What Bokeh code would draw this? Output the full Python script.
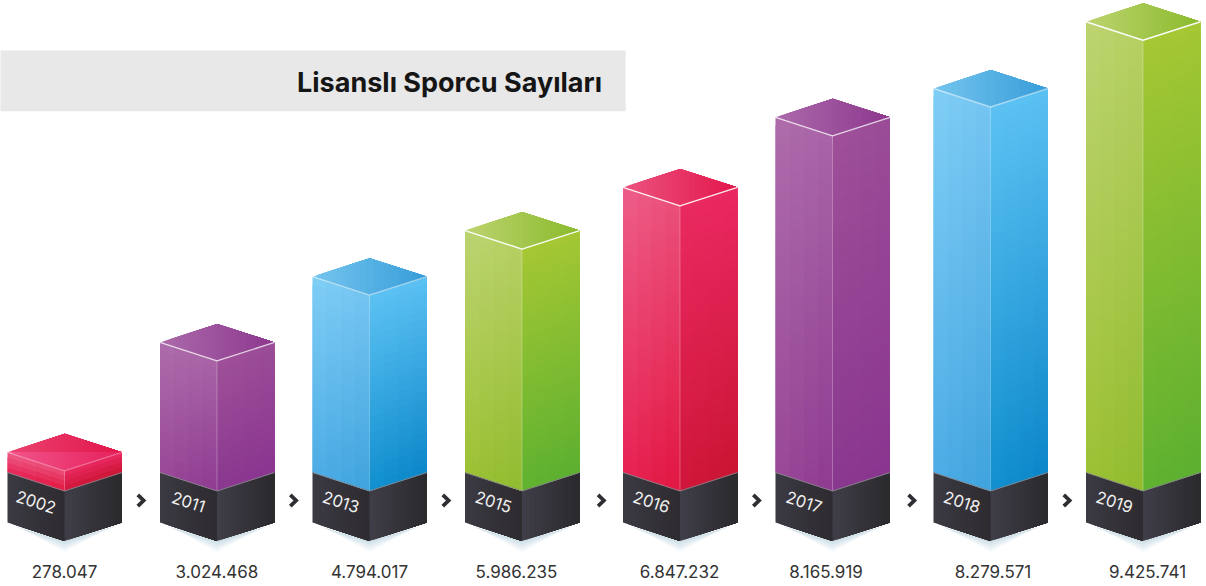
import math
from bokeh.core.properties import value
from bokeh.embed import file_html
from bokeh.models import ColumnDataSource, Range1d
from bokeh.plotting import figure
from bokeh.resources import INLINE

# ---- chart data -------------------------------------------------------
title = "Lisanslı Sporcu Sayıları"
years = ["2002", "2011", "2013", "2015", "2016", "2017", "2018", "2019"]
value_labels = ["278.047", "3.024.468", "4.794.017", "5.986.235",
                "6.847.232", "8.165.919", "8.279.571", "9.425.741"]
# Drawn bar heights in axis units (the picture's bars
# are not strictly proportional to their printed numbers).
bar_levels = [0.42, 2.71, 4.08, 5.04, 5.94, 7.40, 8.00, 9.39]
themes = ["red", "purple", "blue", "green", "red", "purple", "blue", "green"]

# ---- styles: (top L, top R, left TL, left TR, left BL, left BR, right TL, right TR, right BL, right BR)
palette = {
    "red": ("#ec5480", "#e2164b", "#ee5f8a", "#ea4c78", "#e72456", "#e1163f", "#e92a60", "#ea2862", "#d0163a", "#c91532"),
    "purple": ("#ab6aaa", "#8d388e", "#ae6dab", "#a763a6", "#9a4a98", "#8e3a90", "#9f5098", "#9a4c97", "#8a3790", "#8a3590"),
    "blue": ("#75c5ee", "#379dd9", "#80cff6", "#73c3f0", "#4fade6", "#3ea2dc", "#5dc2f3", "#5bc0f2", "#1190cf", "#0c85c8"),
    "green": ("#bdd470", "#8aba2c", "#bdd472", "#b5cf60", "#9ec235", "#90bb2f", "#a6c734", "#a4c733", "#5fb22f", "#5caf30"),
}
dark = ("#3b3942", "#2e2c30", "#403e48", "#2a292c")

# ---- layout -----------------------------------------------------------
PX = 48.0                 # pixels per axis unit
W, H = 1206, 586
BASE = 472                # pixel row of the axis zero
STEP = 152.5
FIRST = 7.5
extra_gap = [0, 0, 0, 0, 5.5, 5.5, 11, 11]
label_shift = [0, 0, 0, -5.5, -0.5, -6.5, 2.5, 4.5]
FACE_W, FACE_W2 = 57.0, 57.5
D = 18.5 / PX             # isometric drop of the top face
BLOCK = 50 / PX           # height of the dark base
NUDGE = 0.5

p = figure(width=W, height=H, output_backend="svg", toolbar_location=None,
           x_range=Range1d(NUDGE, W + NUDGE),
           y_range=Range1d(-(H - BASE) / PX, BASE / PX),
           min_border=0, outline_line_color=None, background_fill_color="white",
           border_fill_color="white")
p.axis.visible = False
p.grid.visible = False
p.styles = {"position": "absolute", "left": "0px", "top": "0px"}


def rgb(c):
    return tuple(int(c[i:i + 2], 16) for i in (1, 3, 5))


def mix(a, b, t):
    return tuple(a[i] + (b[i] - a[i]) * t for i in range(3))


def hexc(c):
    return "#%02x%02x%02x" % tuple(int(round(v)) for v in c)


polys = dict(xs=[], ys=[], color=[])


def face(x0, x1, ytl, ytr, ybl, ybr, tl, tr, bl, br, rows=28, cols=4):
    """Gradient by overpainting: each cell reaches past its neighbours, so no seams show."""
    tl, tr, bl, br = rgb(tl), rgb(tr), rgb(bl), rgb(br)
    for r in range(rows):
        v0, v1 = r / rows, min(1.0, (r + 2) / rows)
        vm = (r + 0.5) / rows
        for c in range(cols):
            u0 = c / cols
            um = (c + 0.5) / cols
            col = mix(mix(tl, tr, um), mix(bl, br, um), vm)
            xa = x0 + (x1 - x0) * u0
            ta = ytl + (ytr - ytl) * u0
            ba = ybl + (ybr - ybl) * u0
            polys["xs"].append([xa, x1, x1, xa])
            polys["ys"].append([ta + (ba - ta) * v0, ytr + (ybr - ytr) * v0,
                                ytr + (ybr - ytr) * v1, ta + (ba - ta) * v1])
            polys["color"].append(hexc(col))


def rhomb(left, level, cl, cr, upper=True, lower=True, cols=24):
    span = FACE_W + FACE_W2
    cl, cr = rgb(cl), rgb(cr)

    def half(u):
        return D * (1 - abs(2 * u - 1))

    for c in range(cols):
        u0 = c / cols
        col = mix(cl, cr, (c + 0.5) / cols)
        stops = [u0] + ([0.5] if u0 < 0.5 else []) + [1.0]
        xs = [left + span * u for u in stops]
        hi = [level + (half(u) if upper else 0) for u in stops]
        lo = [level - (half(u) if lower else 0) for u in stops]
        polys["xs"].append(xs + xs[::-1])
        polys["ys"].append(hi + lo[::-1])
        polys["color"].append(hexc(col))


# grey title band
p.quad(left=[-5], right=[625.7], bottom=[(BASE - 110.7) / PX], top=[(BASE - 50) / PX],
       fill_color="#e8e8e8", line_color=None)

lefts = [FIRST + STEP * i + extra_gap[i] for i in range(len(years))]

# soft shadows under the bases
for d, a in [(11, 0.10), (8.5, 0.12), (6, 0.14), (3.5, 0.16), (1.5, 0.16)]:
    xs, ys = [], []
    for lf in lefts:
        front = lf + FACE_W
        right = front + FACE_W2
        xs.append([lf + 4 + d * 0.5, front, right - 4 - d * 0.5, front])
        ys.append([-BLOCK - D * 0.2, -BLOCK - D - d / PX, -BLOCK - D * 0.2, -BLOCK - D])
    p.patches(xs, ys, fill_color="#a5c6d6", fill_alpha=a, line_color=None)

# bars
for i, lf in enumerate(lefts):
    front = lf + FACE_W
    right = front + FACE_W2
    lv = bar_levels[i]
    t = palette[themes[i]]
    # dark base
    face(lf, front, 0, -D, -BLOCK, -BLOCK - D, dark[0], dark[1], dark[0], dark[1], rows=1, cols=14)
    face(front, right, -D, 0, -BLOCK - D, -BLOCK, dark[2], dark[3], dark[2], dark[3], rows=1, cols=14)
    # coloured faces
    rows = max(4, int(lv * PX / 8))
    face(lf, front, lv, lv - D, 0, -D, t[2], t[3], t[4], t[5], rows=rows)
    face(front, right, lv - D, lv, -D, 0, t[6], t[7], t[8], t[9], rows=rows)
    # top face; the lowest bar shows a lighter reflection in its lower half
    if i == 0:
        rhomb(lf, lv, "#ea4370", "#e2164b", lower=False)
        rhomb(lf, lv, "#f2558e", "#e5205a", upper=False)
    else:
        rhomb(lf, lv, t[0], t[1])

src = ColumnDataSource(polys)
p.patches("xs", "ys", source=src, fill_color="color", line_color=None)

# edges
edge_alpha = {"red": 0.9, "purple": 0.75, "blue": 0.5, "green": 0.95}
for i, lf in enumerate(lefts):
    front = lf + FACE_W
    right = front + FACE_W2
    lv = bar_levels[i]
    a = 0.3 if i == 0 else edge_alpha[themes[i]]
    p.line([lf, front, right], [lv, lv - D, lv], line_color="white", line_alpha=a, line_width=1.4)
    p.line([front, front], [lv - D, -D], line_color="white", line_alpha=0.3, line_width=0.9)
    p.line([lf, front, right], [0, -D, 0], line_color="#85858a", line_width=0.9)

# chevrons between the bars
for i in range(len(lefts) - 1):
    mid = (lefts[i] + FACE_W + FACE_W2 + lefts[i + 1]) / 2
    p.line([mid - 3.2, mid + 2.6, mid - 3.2],
           [-(28 - 5.6) / PX, -28 / PX, -(28 + 5.6) / PX],
           line_color="#2f2e33", line_width=3.8, line_join="miter")

# texts
p.text([602], [(BASE - 81.5) / PX], text=[title], text_align="right", text_baseline="middle",
       text_font=value("Inter"), text_font_style="bold", text_font_size="27px", text_color="#151515")

angle = -math.atan(18.5 / 57)
p.text([lf + 28.5 for lf in lefts], [-29.5 / PX] * len(lefts), text=years, angle=angle,
       text_align="center", text_baseline="middle", text_font=value("Inter"),
       text_font_size="16.5px", text_color="#f0f0f0")
p.text([lf + FACE_W + s for lf, s in zip(lefts, label_shift)], [-(570.5 - BASE) / PX] * len(lefts),
       text=value_labels, text_align="center", text_baseline="middle", text_font=value("Inter"),
       text_font_size="17px", text_color="#333333")

open("out.html", "w").write(file_html(p, INLINE))
